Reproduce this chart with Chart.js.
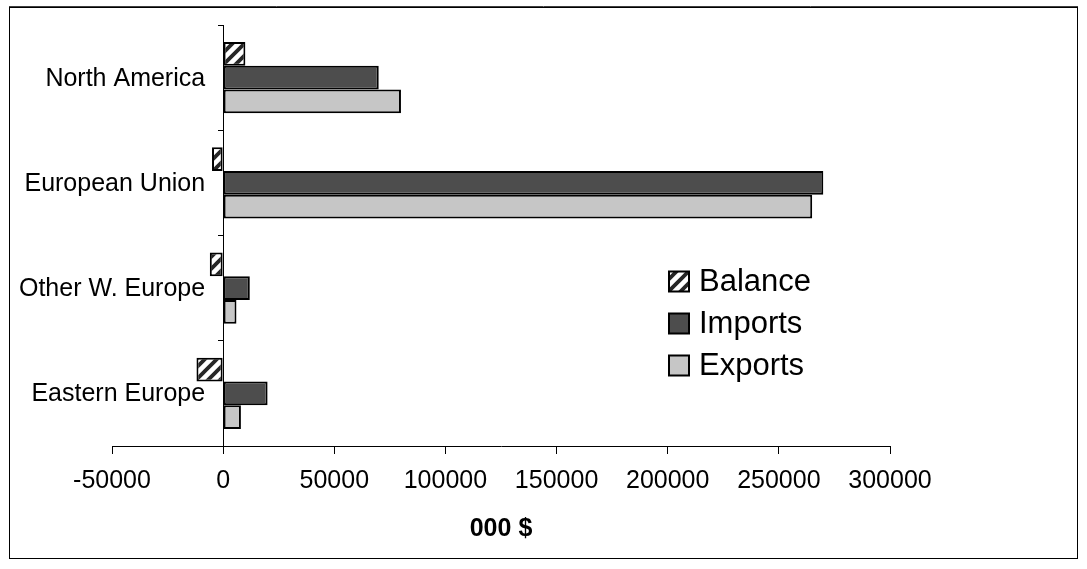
<!DOCTYPE html>
<html>
<head>
<meta charset="utf-8">
<title>Trade by region</title>
<script src="https://cdn.jsdelivr.net/npm/chart.js@4.4.1/dist/chart.umd.min.js"></script>
<style>
  html, body { margin: 0; padding: 0; background: #ffffff; }
  canvas { display: block; }
</style>
</head>
<body>
<canvas id="chart" width="1087" height="569"></canvas>
<script>
// Trade by region, thousands of dollars
const regions = ['North America', 'European Union', 'Other W. Europe', 'Eastern Europe'];
const balanceValues = [10000, -5000, -6000, -12000];
const importValues = [70000, 270000, 12000, 20000];
const exportValues = [80000, 265000, 6000, 8000];
const seriesNames = ['Balance', 'Imports', 'Exports'];
const valueAxisTitle = '000 $';
const valueMin = -50000;
const valueMax = 300000;
const valueStep = 50000;

const FONT = '"Liberation Sans", Arial, Helvetica, sans-serif';
Chart.defaults.font.family = FONT;
Chart.defaults.color = '#000';

const canvas = document.getElementById('chart');
const ctx = canvas.getContext('2d');

// diagonal stripe fill for the balance series
function stripePattern() {
  const s = 12;
  const tile = document.createElement('canvas');
  tile.width = s; tile.height = s;
  const g = tile.getContext('2d');
  g.fillStyle = '#ffffff';
  g.fillRect(0, 0, s, s);
  g.strokeStyle = '#262626';
  g.lineWidth = 3.8;
  g.beginPath();
  g.moveTo(-1, s + 1); g.lineTo(s + 1, -1);
  g.moveTo(-s / 2 - 1, s / 2 + 1); g.lineTo(s / 2 + 1, -s / 2 - 1);
  g.moveTo(s / 2 - 1, s * 1.5 + 1); g.lineTo(s * 1.5 + 1, s / 2 - 1);
  g.stroke();
  return ctx.createPattern(tile, 'repeat');
}

const fills = [stripePattern(), '#4d4d4d', '#c6c6c6'];
const seriesValues = [balanceValues, importValues, exportValues];

// outer frame around the whole drawing
const framePlugin = {
  id: 'frame',
  afterDraw(chart) {
    const c = chart.ctx;
    c.save();
    c.strokeStyle = '#000';
    c.lineWidth = 1;
    c.strokeRect(9.5, 7.5, 1068, 551);
    c.strokeStyle = '#404040';
    c.beginPath();
    c.moveTo(9, 6.5); c.lineTo(1078, 6.5);
    c.stroke();
    c.restore();
  }
};

// category names, placed just left of the zero line
const categoryLabelPlugin = {
  id: 'categoryLabels',
  afterDraw(chart) {
    const c = chart.ctx;
    const xs = chart.scales.x, ys = chart.scales.y;
    const right = xs.getPixelForValue(0) - 18;
    c.save();
    c.font = '25px ' + FONT;
    c.fillStyle = '#000';
    c.textAlign = 'right';
    c.textBaseline = 'middle';
    chart.data.labels.forEach((lab, i) => {
      c.fillText(lab, right, ys.getPixelForValue(i) + 1);
    });
    c.restore();
  }
};

// legend box inside the plot area
const legendPlugin = {
  id: 'insetLegend',
  afterDraw(chart) {
    const c = chart.ctx;
    const x0 = 669, y0 = 281.5, rowGap = 42, box = 20;
    c.save();
    c.font = '31px ' + FONT;
    c.textAlign = 'left';
    c.textBaseline = 'middle';
    chart.data.datasets.forEach((ds, i) => {
      const cy = y0 + i * rowGap;
      c.fillStyle = ds.backgroundColor;
      c.fillRect(x0, cy - box / 2, box, box);
      c.strokeStyle = '#000';
      c.lineWidth = 2;
      c.strokeRect(x0, cy - box / 2, box, box);
      c.fillStyle = '#000';
      c.fillText(ds.label, x0 + 30, cy + 1);
    });
    c.restore();
  }
};

new Chart(ctx, {
  type: 'bar',
  data: {
    labels: regions,
    datasets: seriesNames.map((name, i) => ({
      label: name,
      data: seriesValues[i],
      backgroundColor: fills[i],
      borderColor: '#000',
      borderWidth: 2,
      borderSkipped: false,
      categoryPercentage: 0.675,
      barPercentage: 1.0
    }))
  },
  options: {
    indexAxis: 'y',
    responsive: false,
    animation: false,
    devicePixelRatio: 1,
    layout: { padding: { left: 112, right: 197, top: 25, bottom: 0 } },
    plugins: {
      legend: { display: false },
      tooltip: { enabled: false }
    },
    scales: {
      x: {
        type: 'linear',
        position: 'bottom',
        min: valueMin,
        max: valueMax,
        ticks: {
          stepSize: valueStep,
          padding: 12,
          font: { size: 25 },
          color: '#000',
          maxRotation: 0,
          callback: v => String(v)
        },
        grid: { drawOnChartArea: false, tickLength: 8, color: '#000', lineWidth: 1 },
        border: { display: true, color: '#000', width: 1 },
        title: {
          display: true,
          text: valueAxisTitle,
          font: { size: 25, weight: 'bold' },
          color: '#000',
          padding: { top: 0, bottom: 25 }
        },
        afterFit(scale) { scale.height = 123; }
      },
      y: {
        type: 'category',
        position: { x: 0 },
        offset: true,
        ticks: { display: false },
        grid: { drawOnChartArea: false, offset: true, tickLength: 5, color: '#000', lineWidth: 1 },
        border: { display: true, color: '#000', width: 1 }
      }
    }
  },
  plugins: [framePlugin, categoryLabelPlugin, legendPlugin]
});
</script>
</body>
</html>
